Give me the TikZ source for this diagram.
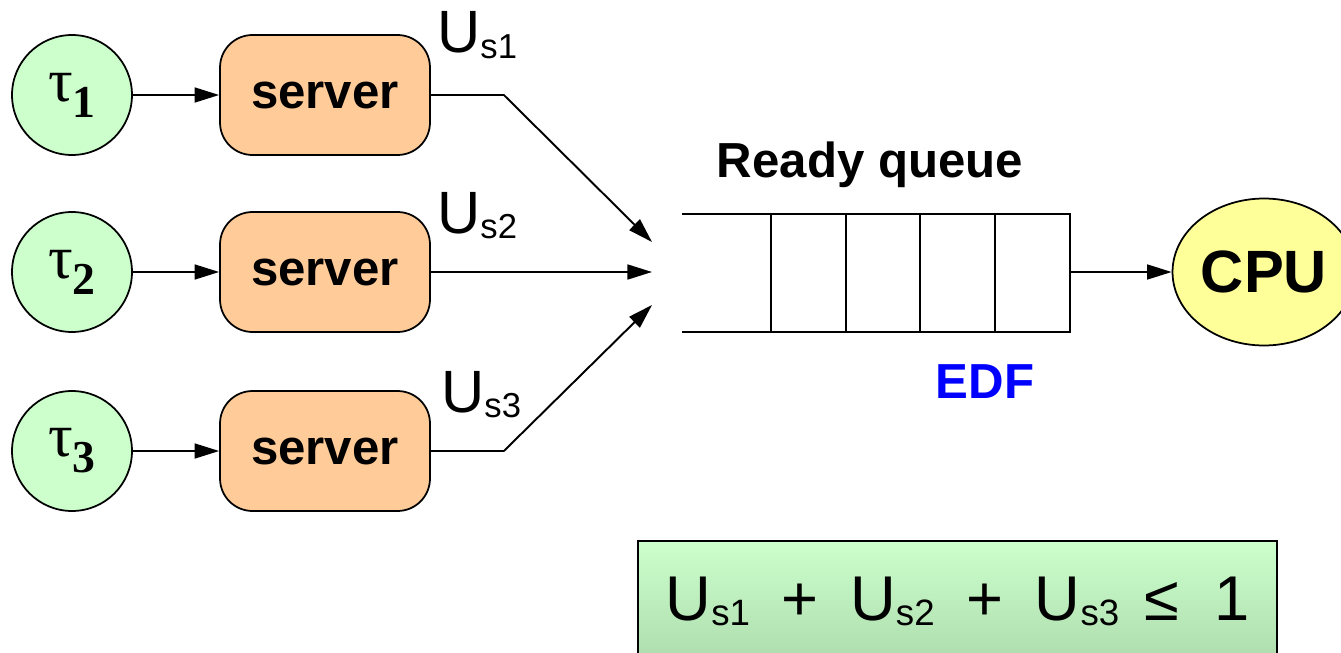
\documentclass[tikz,border=0pt]{standalone}
\usepackage{fontspec}
\usepackage{graphicx}
\setmainfont{Liberation Serif}
\setsansfont{Liberation Sans}
\usepackage{tikz}
\usetikzlibrary{shapes,shapes.geometric}
\usetikzlibrary{calc,arrows.meta,positioning}
\definecolor{tskgreen}{HTML}{CCFFCC}
\definecolor{srvorange}{HTML}{FFCC99}
\definecolor{cpuyellow}{HTML}{FFFF99}
\definecolor{eqgreen}{HTML}{A9D6A9}
\tikzset{
  tsk_n/.style = {circle, draw=black, fill=tskgreen, line width=1pt, minimum size=2.4cm, inner sep=0pt, font=\rmfamily},
  srv_n/.style = {rectangle, rounded corners=0.65cm, draw=black, fill=srvorange, line width=1pt, minimum width=4.2cm, minimum height=2.4cm, font=\sffamily\bfseries\fontsize{28}{30}\selectfont},
  cpu_n/.style = {ellipse, draw=black, fill=cpuyellow, line width=1pt, minimum width=3.66cm, minimum height=2.94cm, inner sep=0pt, font=\sffamily\bfseries\fontsize{34}{36}\selectfont},
  util_n/.style = {inner sep=0pt, font=\sffamily\fontsize{34}{36}\selectfont},
  title_n/.style = {inner sep=0pt, font=\sffamily\bfseries\fontsize{28}{30}\selectfont},
  eq_box/.style = {rectangle, draw=black, line width=0.8pt, top color=tskgreen, bottom color=eqgreen, minimum width=12.78cm, minimum height=2.8cm},
  arr/.style = {-{Triangle[length=14pt,width=8.5pt]}, line width=1.1pt}
}
% task symbol and server utilisation
\newcommand{\tsk}[1]{{\fontsize{35}{36}\selectfont τ}\raisebox{-9pt}{\fontsize{26}{28}\selectfont\bfseries #1}}
\newcommand{\us}[1]{U\raisebox{-0.09em}{\scalebox{0.58}{s#1}}}

\begin{document}
\begin{tikzpicture}[x=0.02cm, y=-0.02cm]
  \useasboundingbox (0,0) rectangle (1341,652);

  % tasks feeding their servers
  \foreach \i/\y in {1/95, 2/272, 3/451} {
    \node[tsk_n] (t\i) at (72,\y) {\tsk{\i}};
    \node[srv_n] (s\i) at (325,\y) {server};
    \draw[arr] (t\i) -- (s\i);
  }
  \node[util_n, anchor=base west] (u1) at (437,53) {\us{1}};
  \node[util_n, anchor=base west] (u2) at (437,233) {\us{2}};
  \node[util_n, anchor=base west] (u3) at (441,412) {\us{3}};

  % ready queue
  \draw[line width=0.8pt] (682,214) -- (1070,214) -- (1070,332) -- (682,332);
  \foreach \x in {771,846,920,995}
    \draw[line width=0.8pt] (\x,214) -- (\x,332);
  \coordinate (q1) at (652,242);
  \coordinate (q2) at (652,272);
  \coordinate (q3) at (652,305);
  \coordinate (qout) at (1070,272);
  \node[title_n, anchor=base] (rq) at (870,177) {Ready queue};
  \node[title_n, anchor=base, text=blue] (edf) at (985,398) {EDF};

  \draw[arr] (s1.east) -- ++(73,0) -- (q1);
  \draw[arr] (s2.east) -- (q2);
  \draw[arr] (s3.east) -- ++(73,0) -- (q3);

  % processor
  \node[cpu_n] (cpu) at (1264,272) {CPU};
  \draw[arr] (qout) -- (cpu);

  % schedulability condition
  \node[eq_box] (eqbox) at (957.5,611) {};
  \node[inner sep=0pt, font=\sffamily\fontsize{36}{38}\selectfont, anchor=base] (eq) at (957.5,620)
    {\us{1}\hspace{0.5em}+\hspace{0.5em}\us{2}\hspace{0.5em}+\hspace{0.5em}\us{3}\hspace{0.4em}≤\hspace{0.55em}1};
\end{tikzpicture}
\end{document}
